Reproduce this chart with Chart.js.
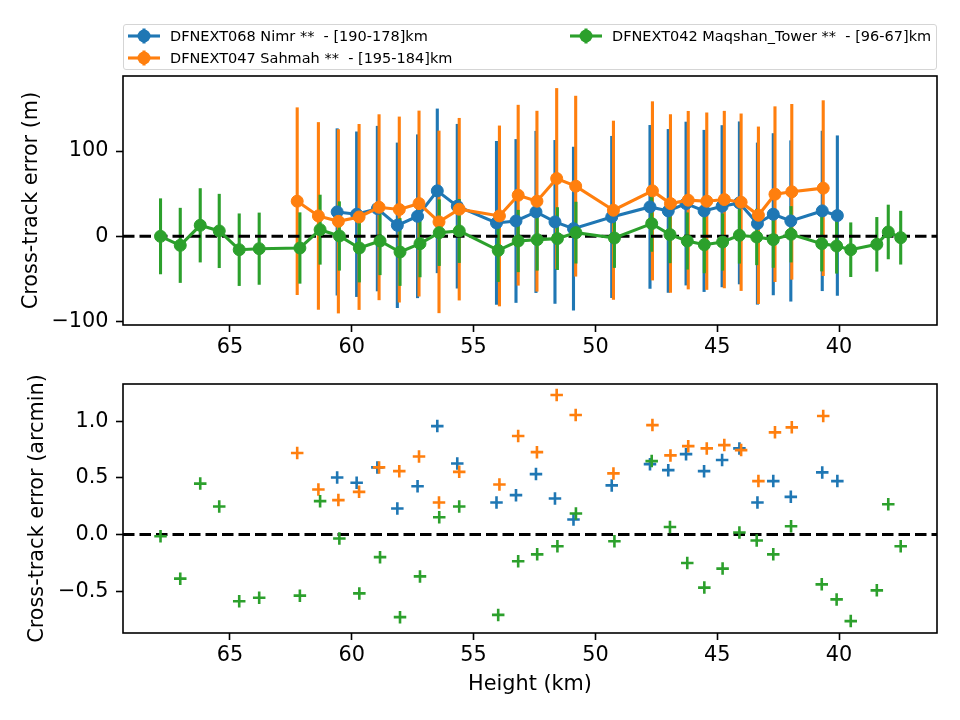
<!DOCTYPE html>
<html>
<head>
<meta charset="utf-8">
<title>Cross-track error vs height</title>
<script src="https://cdn.jsdelivr.net/npm/chart.js@4.4.1/dist/chart.umd.min.js"></script>
<style>
  html, body { margin: 0; padding: 0; background: #fff; }
  #page { position: relative; width: 960px; height: 720px; overflow: hidden; font-family: 'DejaVu Sans', sans-serif; }
  .panel { position: absolute; left: 0; width: 960px; }
  #legend {
    position: absolute; left: 123px; top: 24px; width: 812px; height: 44px;
    border: 1px solid #d5d5d5; border-radius: 3px; background: rgba(255,255,255,0.8); z-index: 2;
  }
  .item { position: absolute; height: 20px; display: flex; align-items: center; font-size: 14.5px; color: #000; white-space: pre; }
  .item svg { margin-right: 9px; flex: none; }
</style>
</head>
<body>
<div id="page">
  <div id="legend"></div>
  <div class="panel" style="top:0;height:362px"><canvas id="top" width="960" height="362"></canvas></div>
  <div class="panel" style="top:362px;height:358px"><canvas id="bottom" width="960" height="358"></canvas></div>
</div>
<script>
// Series labels and colours (matplotlib tab10)
const labels = [
  'DFNEXT068 Nimr **  - [190-178]km',
  'DFNEXT047 Sahmah **  - [195-184]km',
  'DFNEXT042 Maqshan_Tower **  - [96-67]km'
];
const colors = ['#1f77b4', '#ff7f0e', '#2ca02c'];

// Heights (km) of each station's points
const nimrHeight = [60.6, 59.8, 58.95, 58.13, 57.3, 56.49, 55.67, 54.06, 53.26, 52.44, 51.66, 50.9,
  49.33, 47.76, 47.01, 46.28, 45.54, 44.8, 44.09, 43.35, 42.7, 41.98, 40.69, 40.07];
const sahmahHeight = [62.24, 61.37, 60.55, 59.7, 58.88, 58.05, 57.24, 56.42, 55.59, 53.94, 53.17, 52.4,
  51.59, 50.81, 49.26, 47.66, 46.92, 46.19, 45.43, 44.71, 44.02, 43.31, 42.63, 41.94, 40.65];
const maqshanHeight = [67.85, 67.04, 66.22, 65.44, 64.62, 63.8, 62.13, 61.3, 60.51, 59.69, 58.84, 58.02,
  57.2, 56.41, 55.59, 53.99, 53.17, 52.39, 51.56, 50.8, 49.22, 47.69, 46.94, 46.23, 45.53, 44.78,
  44.09, 43.38, 42.7, 41.97, 40.71, 40.1, 39.52, 38.45, 37.98, 37.47];

// Cross-track error (m) with 1-sigma uncertainty
const nimrMetres = [28.6, 25.9, 32.5, 12.9, 23.5, 53.3, 35.3, 15.7, 18, 28.6, 16.9, 9,
  22.7, 34.5, 29.8, 38.4, 29.8, 35.3, 39.2, 14.9, 25.9, 18, 29.8, 24.3];
const nimrSigma = [98, 97, 97, 97, 96, 96.5, 96.5, 96, 96, 95, 96, 96,
  95, 96, 96, 96, 95, 95, 95.5, 95, 95, 94.5, 94, 94];
const sahmahMetres = [41.2, 23.9, 17.6, 22.7, 34.1, 31.4, 38.4, 16.9, 31.8, 23.9, 48.2, 41.2,
  67.8, 58.8, 30.6, 53.3, 38.4, 42.4, 41.2, 43.1, 40, 24.7, 49.4, 52.2, 56.5];
const sahmahSigma = [110, 110, 108, 109, 109, 109, 109, 107, 107, 106, 106, 106,
  106, 106, 105, 105, 104.6, 104.6, 104, 104, 104, 104, 103, 103, 103];
const maqshanMetres = [0, -10.6, 12.9, 6.3, -15.7, -14.5, -13.7, 7.8, 0.4, -13.7, -5.5, -18.4,
  -8.6, 4.3, 6.3, -16.5, -5.5, -3.9, -2.7, 4.3, -2, 14.9, 2, -5.5, -9.8, -6.7,
  1.2, -0.8, -3.9, 2.4, -8.6, -11.4, -15.7, -9.4, 5.1, -1.6];
const maqshanSigma = [44.5, 44, 43.5, 43.5, 42.5, 42.3, 41.8, 41, 40.6, 40.3, 40, 39.7,
  39.4, 39, 37.5, 37, 36.5, 36.3, 36.8, 36.2, 35, 33, 33.5, 33.5, 33.5, 33.5,
  33.2, 33, 33, 33, 32.5, 32.3, 32, 32, 32, 31.5];

// Cross-track error (arcmin)
const nimrArcmin = [0.504, 0.457, 0.593, 0.23, 0.427, 0.958, 0.628, 0.283, 0.348, 0.534, 0.319, 0.133,
  0.434, 0.622, 0.569, 0.71, 0.56, 0.658, 0.761, 0.283, 0.472, 0.333, 0.549, 0.472];
const sahmahArcmin = [0.72, 0.398, 0.304, 0.377, 0.593, 0.56, 0.69, 0.283, 0.554, 0.442, 0.87, 0.728,
  1.233, 1.056, 0.54, 0.967, 0.699, 0.781, 0.761, 0.79, 0.746, 0.472, 0.903, 0.947, 1.047];
const maqshanArcmin = [-0.015, -0.39, 0.45, 0.248, -0.59, -0.558, -0.54, 0.295, -0.035, -0.52, -0.2, -0.73,
  -0.37, 0.153, 0.248, -0.71, -0.236, -0.175, -0.103, 0.186, -0.059, 0.649, 0.067, -0.251, -0.469, -0.301,
  0.018, -0.053, -0.175, 0.073, -0.44, -0.573, -0.765, -0.493, 0.268, -0.103];

// Axis ticks and limits
const heightTicks = [65, 60, 55, 50, 45, 40];
const metreTicks = [-100, 0, 100];
const arcminTicks = [-0.5, 0, 0.5, 1.0];
const heightRange = [35.98, 69.39];
const metreRange = [-104, 188];
const arcminRange = [-0.87, 1.33];

const FONT = 'DejaVu Sans';
const LABEL_SIZE = 20.8;
Chart.defaults.font.family = FONT;
Chart.defaults.color = '#000';

const minus = (s) => s.replace('-', '\u2212');

/**
 * Zip heights and values into {x, y} points
 */
function points(xs, ys) {
  return xs.map((x, i) => ({ x, y: ys[i] }));
}

/**
 * Error bars below everything, dashed zero line on top of them
 */
const errorBarPlugin = {
  id: 'errorBars',
  beforeDatasetsDraw(chart) {
    const { ctx, chartArea, scales } = chart;
    ctx.save();
    ctx.beginPath();
    ctx.rect(chartArea.left, chartArea.top, chartArea.right - chartArea.left, chartArea.bottom - chartArea.top);
    ctx.clip();
    chart.data.datasets.forEach((ds) => {
      if (!ds.errors) return;
      ctx.strokeStyle = ds.borderColor;
      ctx.lineWidth = 3.1;
      ds.data.forEach((p, i) => {
        const x = scales.x.getPixelForValue(p.x);
        ctx.beginPath();
        ctx.moveTo(x, scales.y.getPixelForValue(p.y + ds.errors[i]));
        ctx.lineTo(x, scales.y.getPixelForValue(p.y - ds.errors[i]));
        ctx.stroke();
      });
    });
    ctx.restore();
  }
};

const zeroLinePlugin = {
  id: 'zeroLine',
  beforeDatasetsDraw(chart) {
    const { ctx, chartArea, scales } = chart;
    const y = scales.y.getPixelForValue(0);
    ctx.save();
    ctx.strokeStyle = '#000';
    ctx.lineWidth = 3.1;
    ctx.setLineDash([11.5, 5]);
    ctx.beginPath();
    ctx.moveTo(chartArea.left, y);
    ctx.lineTo(chartArea.right, y);
    ctx.stroke();
    ctx.restore();
  }
};

const framePlugin = {
  id: 'frame',
  afterDraw(chart) {
    const { ctx, chartArea } = chart;
    ctx.save();
    ctx.strokeStyle = '#000';
    ctx.lineWidth = 1.6;
    ctx.strokeRect(chartArea.left, chartArea.top, chartArea.right - chartArea.left, chartArea.bottom - chartArea.top);
    ctx.restore();
  }
};

/**
 * Shared axis options; ticks come from the tick arrays
 */
function axisOptions(range, ticks, format, extra) {
  return Object.assign({
    type: 'linear',
    min: range[0],
    max: range[1],
    afterBuildTicks: (axis) => { axis.ticks = ticks.map((value) => ({ value })); },
    grid: { display: true, drawOnChartArea: false, drawTicks: true, tickLength: 7, tickWidth: 1.6, tickColor: '#000' },
    border: { display: false },
    ticks: {
      autoSkip: false, maxRotation: 0, color: '#000',
      font: { family: FONT, size: LABEL_SIZE },
      callback: format
    }
  }, extra);
}

function buildChart(canvas, datasets, opts) {
  const xAxis = axisOptions(heightRange, heightTicks, (v) => String(v), {
    reverse: true,
    afterFit: (axis) => { axis.height = opts.xHeight; },
    title: opts.xTitle
      ? { display: true, text: opts.xTitle, font: { family: FONT, size: LABEL_SIZE }, color: '#000', padding: { top: 0, bottom: 23 } }
      : { display: false }
  });
  xAxis.ticks.padding = 3;
  const yAxis = axisOptions(opts.yRange, opts.yTicks, opts.yFormat, {
    afterFit: (axis) => { axis.width = 123; },
    title: { display: true, text: opts.yTitle, font: { family: FONT, size: LABEL_SIZE }, color: '#000', padding: { top: opts.yTitlePad, bottom: 0 } }
  });
  yAxis.ticks.padding = 7.5;

  return new Chart(canvas, {
    type: 'scatter',
    data: { datasets },
    options: {
      responsive: false,
      devicePixelRatio: 1,
      animation: false,
      events: [],
      layout: { padding: { top: opts.padTop, right: 23, left: 0, bottom: 0 } },
      scales: { x: xAxis, y: yAxis },
      plugins: { legend: { display: false }, tooltip: { enabled: false } }
    },
    plugins: opts.plugins
  });
}

// Top panel: metres with error bars
const topSets = [
  [nimrHeight, nimrMetres, nimrSigma],
  [sahmahHeight, sahmahMetres, sahmahSigma],
  [maqshanHeight, maqshanMetres, maqshanSigma]
].map(([xs, ys, err], i) => ({
  label: labels[i],
  data: points(xs, ys),
  errors: err,
  showLine: true,
  borderColor: colors[i],
  backgroundColor: colors[i],
  borderWidth: 3.1,
  pointRadius: 6,
  pointBorderWidth: 1,
  pointBackgroundColor: colors[i],
  pointBorderColor: colors[i],
  order: 3 - i
}));

buildChart(document.getElementById('top'), topSets, {
  padTop: 76, xHeight: 37,
  yRange: metreRange, yTicks: metreTicks, yFormat: (v) => minus(String(v)),
  yTitle: 'Cross-track error (m)', yTitlePad: 19.5,
  plugins: [errorBarPlugin, zeroLinePlugin, framePlugin]
});

// Bottom panel: arcmin as '+' markers
const bottomSets = [
  [nimrHeight, nimrArcmin],
  [sahmahHeight, sahmahArcmin],
  [maqshanHeight, maqshanArcmin]
].map(([xs, ys], i) => ({
  label: labels[i],
  data: points(xs, ys),
  pointStyle: 'cross',
  pointRadius: 6.25,
  borderWidth: 2.6,
  borderColor: colors[i],
  backgroundColor: colors[i],
  order: 3 - i
}));

buildChart(document.getElementById('bottom'), bottomSets, {
  padTop: 22, xHeight: 87, xTitle: 'Height (km)',
  yRange: arcminRange, yTicks: arcminTicks, yFormat: (v) => minus(v.toFixed(1)),
  yTitle: 'Cross-track error (arcmin)', yTitlePad: 25.5,
  plugins: [zeroLinePlugin, framePlugin]
});

// Legend: two columns like matplotlib's ncol=2
const legendSlots = [
  { left: 3, top: 0.7 },
  { left: 3, top: 22.7 },
  { left: 445, top: 0.7 }
];
const legend = document.getElementById('legend');
labels.forEach((text, i) => {
  const c = colors[i];
  const item = document.createElement('div');
  item.className = 'item';
  item.style.left = legendSlots[i].left + 'px';
  item.style.top = legendSlots[i].top + 'px';
  item.innerHTML =
    '<svg width="34" height="20" viewBox="0 0 34 20">' +
    `<line x1="1" y1="10" x2="33" y2="10" stroke="${c}" stroke-width="3.1"/>` +
    `<line x1="17" y1="2.5" x2="17" y2="17.5" stroke="${c}" stroke-width="3.1"/>` +
    `<circle cx="17" cy="10" r="6.5" fill="${c}"/></svg>`;
  const span = document.createElement('span');
  span.textContent = text;
  item.appendChild(span);
  legend.appendChild(item);
});
</script>
</body>
</html>
